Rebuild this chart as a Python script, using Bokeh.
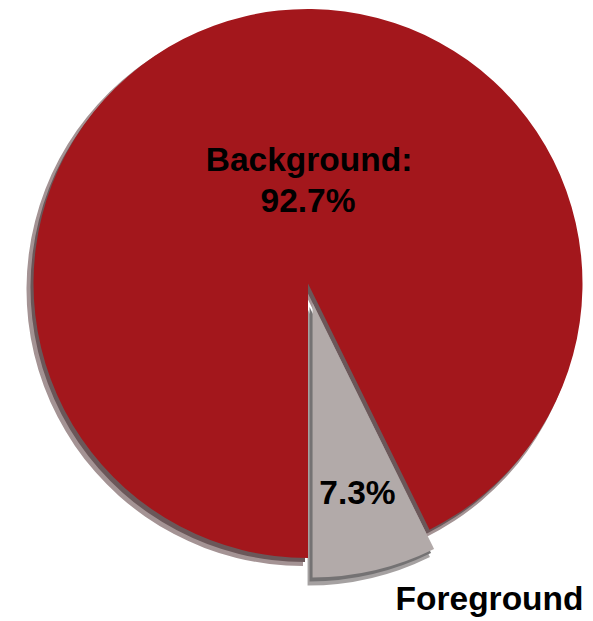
import numpy as np
from bokeh.plotting import figure
from bokeh.models import ColumnDataSource
from bokeh.core.properties import value
from bokeh.embed import file_html
from bokeh.resources import INLINE

# ---- data ----
categories = ["Background", "Foreground"]
shares = [92.7, 7.3]
colors = ["#A3171C", "#B2AAA9"]
shadow_dark = ["#6B5759", "#747273"]
shadow_light = ["#A49394", "#A5A1A1"]
explode_px = [0, 20]

# ---- layout ----
W, H = 593, 621
cx, cy = 307.5, H - 283.0
r = 274.5
FONT = "Liberation Sans"
FS = "33.5px"

p = figure(width=W, height=H, x_range=(0, W), y_range=(0, H),
           output_backend="svg", toolbar_location=None, min_border=0)
p.axis.visible = False
p.xgrid.visible = False
p.ygrid.visible = False
p.outline_line_color = None
p.background_fill_color = "white"
p.border_fill_color = "white"

total = float(sum(shares))
order = [1, 0]  # Foreground first, going anticlockwise from straight down
start = -np.pi / 2
wedges = {}
for i in order:
    end = start + 2 * np.pi * shares[i] / total
    mid = (start + end) / 2
    ox = cx + explode_px[i] * np.cos(mid)
    oy = cy + explode_px[i] * np.sin(mid)
    wedges[i] = dict(x=ox, y=oy, start=start, end=end, mid=mid)
    start = end

def src(layer_dx, layer_dy, dr, cols):
    d = dict(x=[], y=[], radius=[], start=[], end=[], color=[])
    for i in order:
        w = wedges[i]
        d["x"].append(w["x"] + layer_dx)
        d["y"].append(w["y"] + layer_dy)
        d["radius"].append(r + dr)
        d["start"].append(w["start"])
        d["end"].append(w["end"])
        d["color"].append(cols[i])
    return ColumnDataSource(d)

# shadows (light outer, dark inner), offset down-left
p.wedge(x="x", y="y", radius="radius", start_angle="start", end_angle="end",
        fill_color="color", line_color=None, source=src(-5, -6, 2, shadow_light))
p.wedge(x="x", y="y", radius="radius", start_angle="start", end_angle="end",
        fill_color="color", line_color=None, source=src(-3, -4, 0, shadow_dark))
# main slices
p.wedge(x="x", y="y", radius="radius", start_angle="start", end_angle="end",
        fill_color="color", line_color=None, source=src(0, 0, 0, colors))

# labels
fg = wedges[1]
p.text(x=[cx + 1, cx], y=[cy + 0.452 * r, cy + 0.302 * r],
       text=[categories[0] + ":", f"{shares[0]}%"],
       text_font=value(FONT), text_font_style="bold", text_font_size=FS,
       text_color="black", text_align="center", text_baseline="alphabetic")
p.text(x=[fg["x"] + 0.72 * r * np.cos(fg["mid"])],
       y=[fg["y"] + 0.71 * r * np.sin(fg["mid"])],
       text=[f"{shares[1]}%"],
       text_font=value(FONT), text_font_style="bold", text_font_size=FS,
       text_color="black", text_align="center", text_baseline="alphabetic")
p.text(x=[cx + 0.319 * r], y=[cy - 1.148 * r],
       text=[categories[1]],
       text_font=value(FONT), text_font_style="bold", text_font_size=FS,
       text_color="black", text_align="left", text_baseline="alphabetic")

open("out.html", "w").write(file_html(p, INLINE))
